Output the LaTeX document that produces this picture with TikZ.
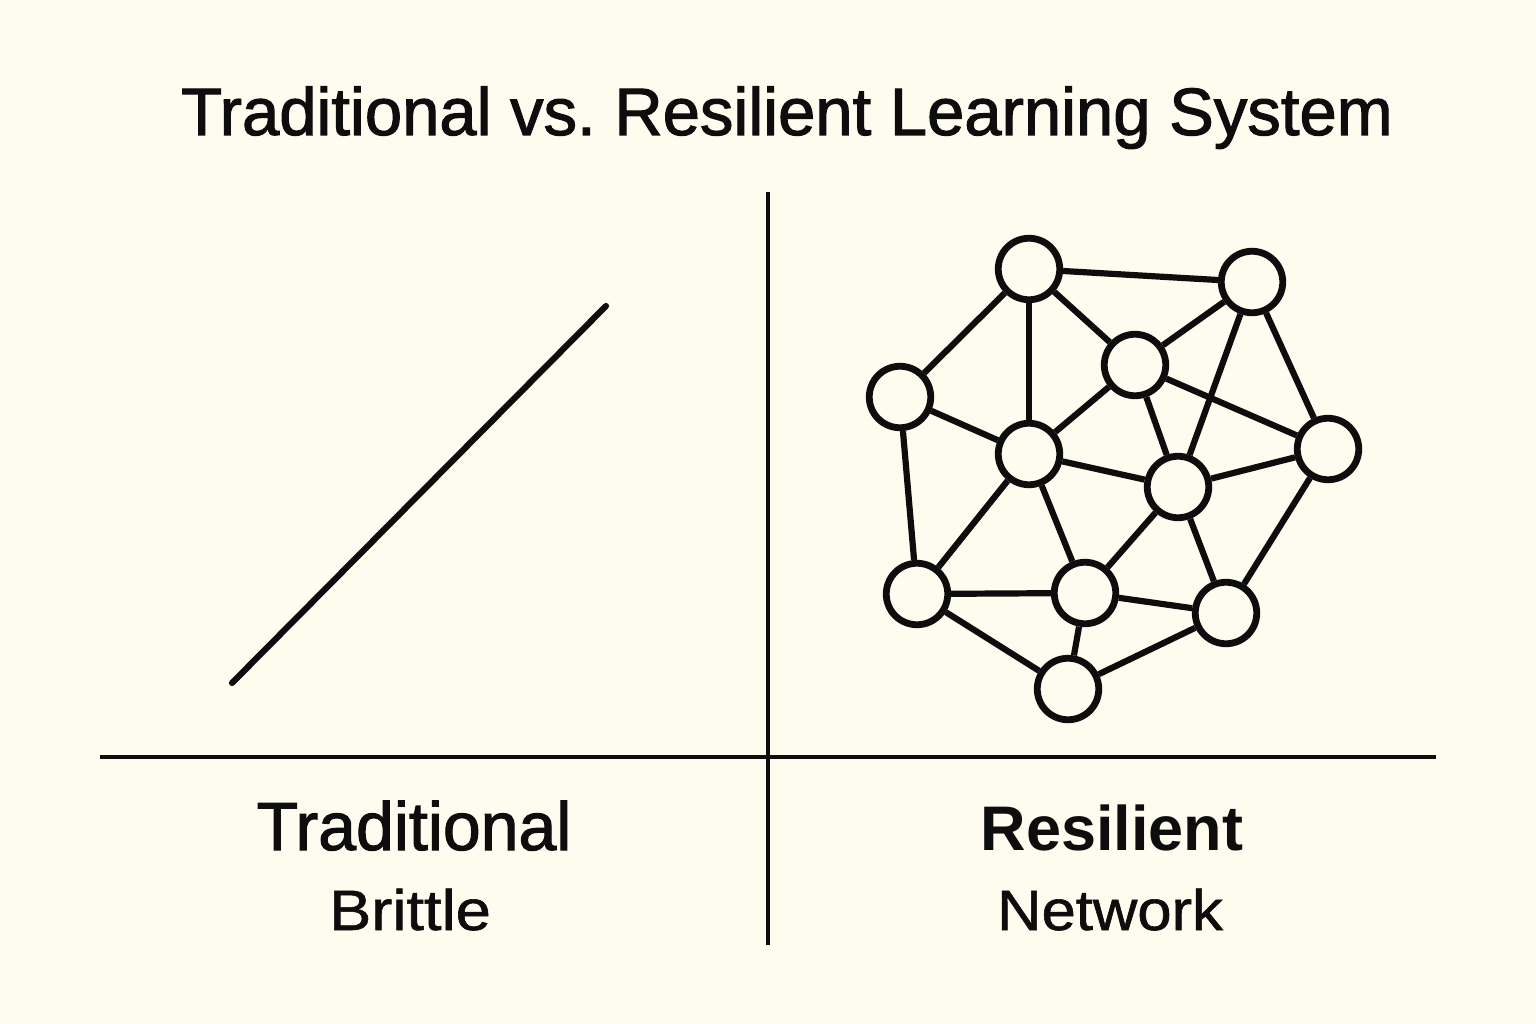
\documentclass[tikz,border=0pt]{standalone}
\usepackage{fontspec}
\usepackage{graphicx}
\setmainfont{Liberation Sans}
\newfontfamily\medfont[FakeBold=1.6]{Liberation Sans}
\newfontfamily\regfont[FakeBold=1.0]{Liberation Sans}
\definecolor{bgc}{HTML}{FEFBEF}
\definecolor{ink}{HTML}{0D0D0D}
\begin{document}
\begin{tikzpicture}[x=1pt,y=-1pt,
  nd/.style={circle,draw=ink,line width=6.8pt,fill=bgc,minimum size=61.5pt,inner sep=0pt},
  edge/.style={draw=ink,line width=6.2pt},
  rule/.style={draw=ink,line width=4.6pt},
  lbl/.style={anchor=base,text=ink,inner sep=0pt}]
\fill[bgc] (0,0) rectangle (1536,1024);
\useasboundingbox (0,0) rectangle (1536,1024);
% title
\node[lbl,font=\medfont\fontsize{67}{74}\selectfont] (title) at (787,135) {Traditional vs.\ Resilient Learning System};
% dividers
\coordinate (vt) at (768,192);
\coordinate (vb) at (768,945);
\coordinate (hl) at (100,757);
\coordinate (hr) at (1436,757);
\draw[rule] (vt) -- (vb);
\draw[rule] (hl) -- (hr);
% brittle line
\coordinate (la) at (232,683);
\coordinate (lb) at (606,306);
\draw[edge,line cap=round] (la) -- (lb);
% labels
\node[lbl,font=\medfont\fontsize{68}{74}\selectfont] (trad) at (414,850) {Traditional};
\node[lbl,font=\regfont\fontsize{57}{62}\selectfont] (brit) at (410,930) {\scalebox{1.11}[1]{Brittle}};
\node[lbl,font=\bfseries\fontsize{63}{70}\selectfont] (resl) at (1112,850) {Resilient};
\node[lbl,font=\regfont\fontsize{57}{62}\selectfont] (netw) at (1110,930) {\scalebox{1.08}[1]{Network}};
% network nodes
\coordinate (pA) at (1029,269);
\coordinate (pB) at (1252,282);
\coordinate (pC) at (1135,365);
\coordinate (pD) at (900,397);
\coordinate (pE) at (1029,454);
\coordinate (pF) at (1178,487);
\coordinate (pG) at (1328,449);
\coordinate (pH) at (917,594);
\coordinate (pI) at (1085,593);
\coordinate (pJ) at (1226,613);
\coordinate (pK) at (1068,689);
\begin{scope}
\foreach \n in {A,B,C,D,E,F,G,H,I,J,K} {\node[nd] (\n) at (p\n) {};}
\end{scope}
\foreach \a/\b in {A/B,A/D,A/E,A/C,C/B,C/E,C/G,C/F,B/F,B/G,D/E,D/H,E/F,E/H,E/I,F/G,F/I,F/J,G/J,H/I,I/J,H/K,I/K,J/K}
  {\draw[edge] (\a) -- (\b);}
\end{tikzpicture}
\end{document}
